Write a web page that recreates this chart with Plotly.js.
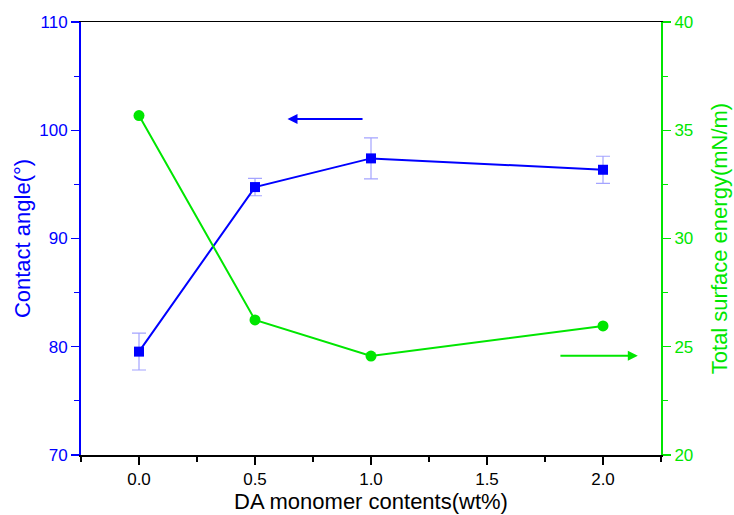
<!DOCTYPE html>
<html><head><meta charset="utf-8">
<script src="https://cdn.plot.ly/plotly-3.0.1.min.js"></script>
<style>body{margin:0;background:#fff}#c{width:734px;height:515px}</style>
</head><body><div id="c"></div>
<script>
const xVals = [0.0, 0.5, 1.0, 2.0];
const contactAngle = [79.55, 94.75, 97.4, 96.35];
const contactAngleErr = [1.7, 0.8, 1.9, 1.25];
const surfaceEnergy = [35.68, 26.24, 24.57, 25.96];
const xTicks = [0.0, 0.5, 1.0, 1.5, 2.0];
const xTickLabels = ['0.0', '0.5', '1.0', '1.5', '2.0'];
const yTicks = [70, 80, 90, 100, 110];
const y2Ticks = [20, 25, 30, 35, 40];

const BLUE = '#0000ff', GREEN = '#00e600';
const FONT = 'Liberation Sans, Arial, sans-serif';

const traces = [
  {x: xVals, y: contactAngle, type: 'scatter', mode: 'lines+markers',
   line: {color: BLUE, width: 2}, marker: {symbol: 'square', size: 10, color: BLUE},
   error_y: {type: 'data', array: contactAngleErr, visible: true, color: 'rgba(90,90,255,0.55)', thickness: 1.2, width: 7},
   yaxis: 'y', cliponaxis: false},
  {x: xVals, y: surfaceEnergy, type: 'scatter', mode: 'lines+markers',
   line: {color: GREEN, width: 2}, marker: {symbol: 'circle', size: 11, color: GREEN},
   yaxis: 'y2', cliponaxis: false}
];

const layout = {
  width: 734, height: 515, showlegend: false,
  paper_bgcolor: '#fff', plot_bgcolor: '#fff',
  margin: {l: 81, r: 73, t: 22, b: 60},
  font: {family: FONT, size: 17, color: '#000'},
  xaxis: {range: [-0.25, 2.25], tickvals: xTicks, ticktext: xTickLabels,
    showgrid: false, zeroline: false, showline: true, linecolor: '#000', linewidth: 1.5, mirror: true,
    ticks: 'outside', ticklen: 8, tickwidth: 1.2, tickcolor: '#000',
    minor: {dtick: 0.25, ticks: 'outside', ticklen: 5, tickcolor: '#000', tickwidth: 1.2},
    tickfont: {size: 17, color: '#000'},
    title: {text: 'DA monomer contents(wt%)', font: {size: 22, color: '#000'}, standoff: 5}},
  yaxis: {range: [70, 110], tickvals: yTicks, showgrid: false, zeroline: false,
    showline: true, linecolor: BLUE, linewidth: 2,
    ticks: 'outside', ticklen: 8, tickwidth: 1.2, tickcolor: BLUE,
    minor: {dtick: 5, ticks: 'outside', ticklen: 5, tickcolor: BLUE, tickwidth: 1.2},
    tickfont: {size: 17, color: BLUE},
    title: {text: 'Contact angle(°)', font: {size: 22, color: BLUE}, standoff: 3}},
  yaxis2: {range: [20, 40], tickvals: y2Ticks, overlaying: 'y', side: 'right',
    showgrid: false, zeroline: false, showline: true, linecolor: GREEN, linewidth: 2,
    ticks: 'outside', ticklen: 8, tickwidth: 1.2, tickcolor: GREEN,
    minor: {dtick: 2.5, ticks: 'outside', ticklen: 5, tickcolor: GREEN, tickwidth: 1.2},
    tickfont: {size: 17, color: GREEN},
    title: {text: 'Total surface energy(mN/m)', font: {size: 22, color: GREEN}, standoff: 19}},
  annotations: [
    {xref: 'x', yref: 'y', x: 0.64, y: 101.05, ax: 0.97, ay: 101.05, axref: 'x', ayref: 'y',
     text: '', showarrow: true, arrowhead: 2, arrowsize: 1, arrowwidth: 2, arrowcolor: BLUE},
    {xref: 'x', yref: 'y2', x: 2.15, y: 24.58, ax: 1.81, ay: 24.58, axref: 'x', ayref: 'y2',
     text: '', showarrow: true, arrowhead: 2, arrowsize: 1, arrowwidth: 2, arrowcolor: GREEN}
  ]
};
Plotly.newPlot('c', traces, layout, {displayModeBar: false, staticPlot: true});
</script></body></html>
